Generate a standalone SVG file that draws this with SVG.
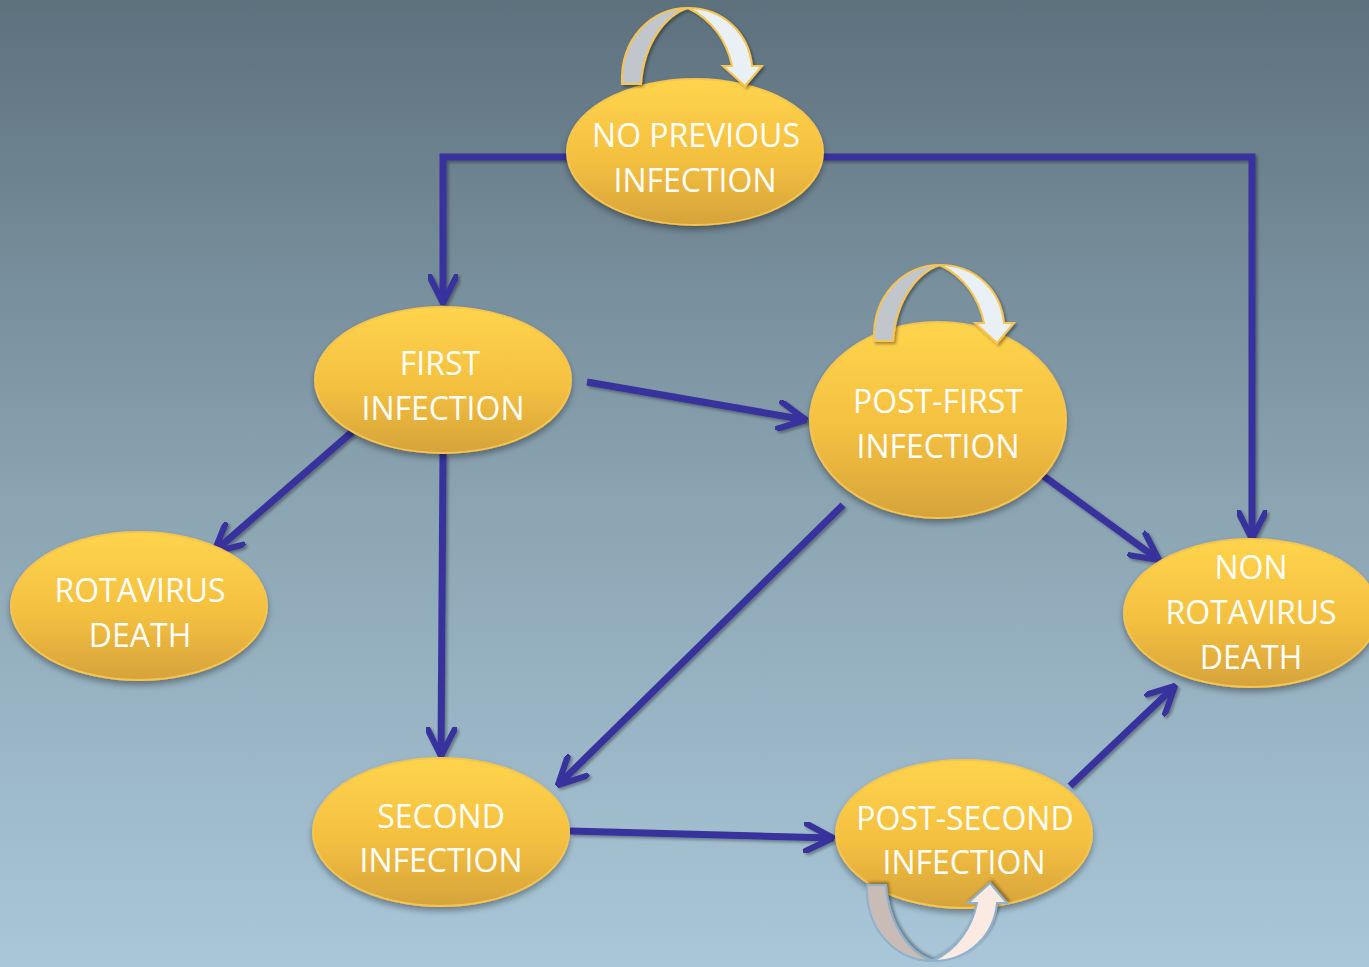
<svg xmlns="http://www.w3.org/2000/svg" width="1369" height="967" viewBox="0 0 1369 967">
<defs>
<linearGradient id="bg" x1="0" y1="0" x2="0" y2="1">
<stop offset="0" stop-color="#5d717d"/>
<stop offset="0.5" stop-color="#8aa3b1"/>
<stop offset="1" stop-color="#a9c7d9"/>
</linearGradient>
<linearGradient id="nodeFill" x1="0" y1="0" x2="0" y2="1">
<stop offset="0" stop-color="#ffd44c"/>
<stop offset="0.55" stop-color="#f4c040"/>
<stop offset="1" stop-color="#d6a33b"/>
</linearGradient>
<filter id="shadow" x="-20%" y="-20%" width="140%" height="150%">
<feDropShadow dx="0" dy="4" stdDeviation="3" flood-color="#000" flood-opacity="0.35"/>
</filter>
<filter id="lshadow" x="-10%" y="-10%" width="120%" height="120%">
<feDropShadow dx="2" dy="2" stdDeviation="1.5" flood-color="#000" flood-opacity="0.35"/>
</filter>
<marker id="arr" viewBox="0 0 10 10" refX="9.5" refY="5" markerWidth="4.4" markerHeight="4.4" orient="auto" markerUnits="strokeWidth">
<path d="M0.8,0.6 L9.5,5 L0.8,9.4" fill="none" stroke="#37339d" stroke-width="2" stroke-linecap="round" stroke-linejoin="round"/>
</marker>
</defs>
<style>
.node{fill:url(#nodeFill);stroke:#f7c44e;stroke-width:2;filter:url(#shadow)}
.lbl{font-family:"Open Sans","Liberation Sans",sans-serif;font-size:32px;fill:#ffffff;text-anchor:middle}
.conn{fill:none;stroke:#37339d;stroke-width:7;stroke-linejoin:miter;marker-end:url(#arr)}
.ga{fill:#c0c6cc;stroke:#f8c552;stroke-width:2}
.la{fill:#e9f0f6;stroke:#f8c552;stroke-width:2}
.gb{fill:#c9bcb6;stroke:#8fb1cd;stroke-width:2}
.lb{fill:#faeae1;stroke:#8fb1cd;stroke-width:2}
</style>
<rect width="1369" height="967" fill="url(#bg)"/>

<g id="connectors" filter="url(#lshadow)">
<polyline class="conn" points="570,157 443,157 443,303"/>
<polyline class="conn" points="822,157 1252,157 1252,539"/>
<line class="conn" x1="587" y1="382" x2="806" y2="420"/>
<line class="conn" x1="352" y1="432" x2="214" y2="552"/>
<line class="conn" x1="443" y1="454" x2="441" y2="756"/>
<line class="conn" x1="843" y1="505" x2="558" y2="785"/>
<line class="conn" x1="1042" y1="475" x2="1159" y2="560"/>
<line class="conn" x1="570" y1="831" x2="833" y2="838"/>
<line class="conn" x1="1070" y1="786" x2="1175" y2="686"/>
</g>

<g id="node-no-previous">
<ellipse class="node" cx="695" cy="152" rx="128" ry="73"/>
<g filter="url(#lshadow)">
<path class="ga" d="M622,84 C620,38 652,8 688,8 C666,15 644,42 641,84 Z"/>
<path class="la" d="M688,8 C724,8 749,34 752,66 L762,66 L745,86 L723,66 L732,66 C727,42 713,20 688,8 Z"/>
</g>
<text class="lbl" x="696" y="147">NO PREVIOUS</text>
<text class="lbl" x="695" y="192">INFECTION</text>
</g>

<g id="node-first">
<ellipse class="node" cx="443" cy="380" rx="128" ry="73"/>
<text class="lbl" x="440" y="375">FIRST</text>
<text class="lbl" x="443" y="420">INFECTION</text>
</g>

<g id="node-post-first">
<ellipse class="node" cx="938" cy="420" rx="128" ry="98"/>
<g filter="url(#lshadow)" transform="translate(252,257)">
<path class="ga" d="M622,84 C620,38 652,8 688,8 C666,15 644,42 641,84 Z"/>
<path class="la" d="M688,8 C724,8 749,34 752,66 L762,66 L745,86 L723,66 L732,66 C727,42 713,20 688,8 Z"/>
</g>
<text class="lbl" x="938" y="413">POST-FIRST</text>
<text class="lbl" x="938" y="458">INFECTION</text>
</g>

<g id="node-rotavirus-death">
<ellipse class="node" cx="139" cy="606" rx="128" ry="74"/>
<text class="lbl" x="140" y="602">ROTAVIRUS</text>
<text class="lbl" x="140" y="647">DEATH</text>
</g>

<g id="node-non-rotavirus-death">
<ellipse class="node" cx="1251" cy="613" rx="127" ry="74"/>
<text class="lbl" x="1251" y="579">NON</text>
<text class="lbl" x="1251" y="624">ROTAVIRUS</text>
<text class="lbl" x="1251" y="669">DEATH</text>
</g>

<g id="node-second">
<ellipse class="node" cx="441" cy="832" rx="128" ry="74"/>
<text class="lbl" x="441" y="828">SECOND</text>
<text class="lbl" x="441" y="872">INFECTION</text>
</g>

<g id="node-post-second">
<ellipse class="node" cx="964" cy="834" rx="128" ry="74"/>
<g filter="url(#lshadow)" transform="translate(245,969) scale(1,-1)">
<path class="gb" d="M622,84 C620,38 652,8 688,8 C666,15 644,42 641,84 Z"/>
<path class="lb" d="M688,8 C724,8 749,34 752,66 L762,66 L745,86 L723,66 L732,66 C727,42 713,20 688,8 Z"/>
</g>
<text class="lbl" x="965" y="830">POST-SECOND</text>
<text class="lbl" x="964" y="874">INFECTION</text>
</g>
</svg>
